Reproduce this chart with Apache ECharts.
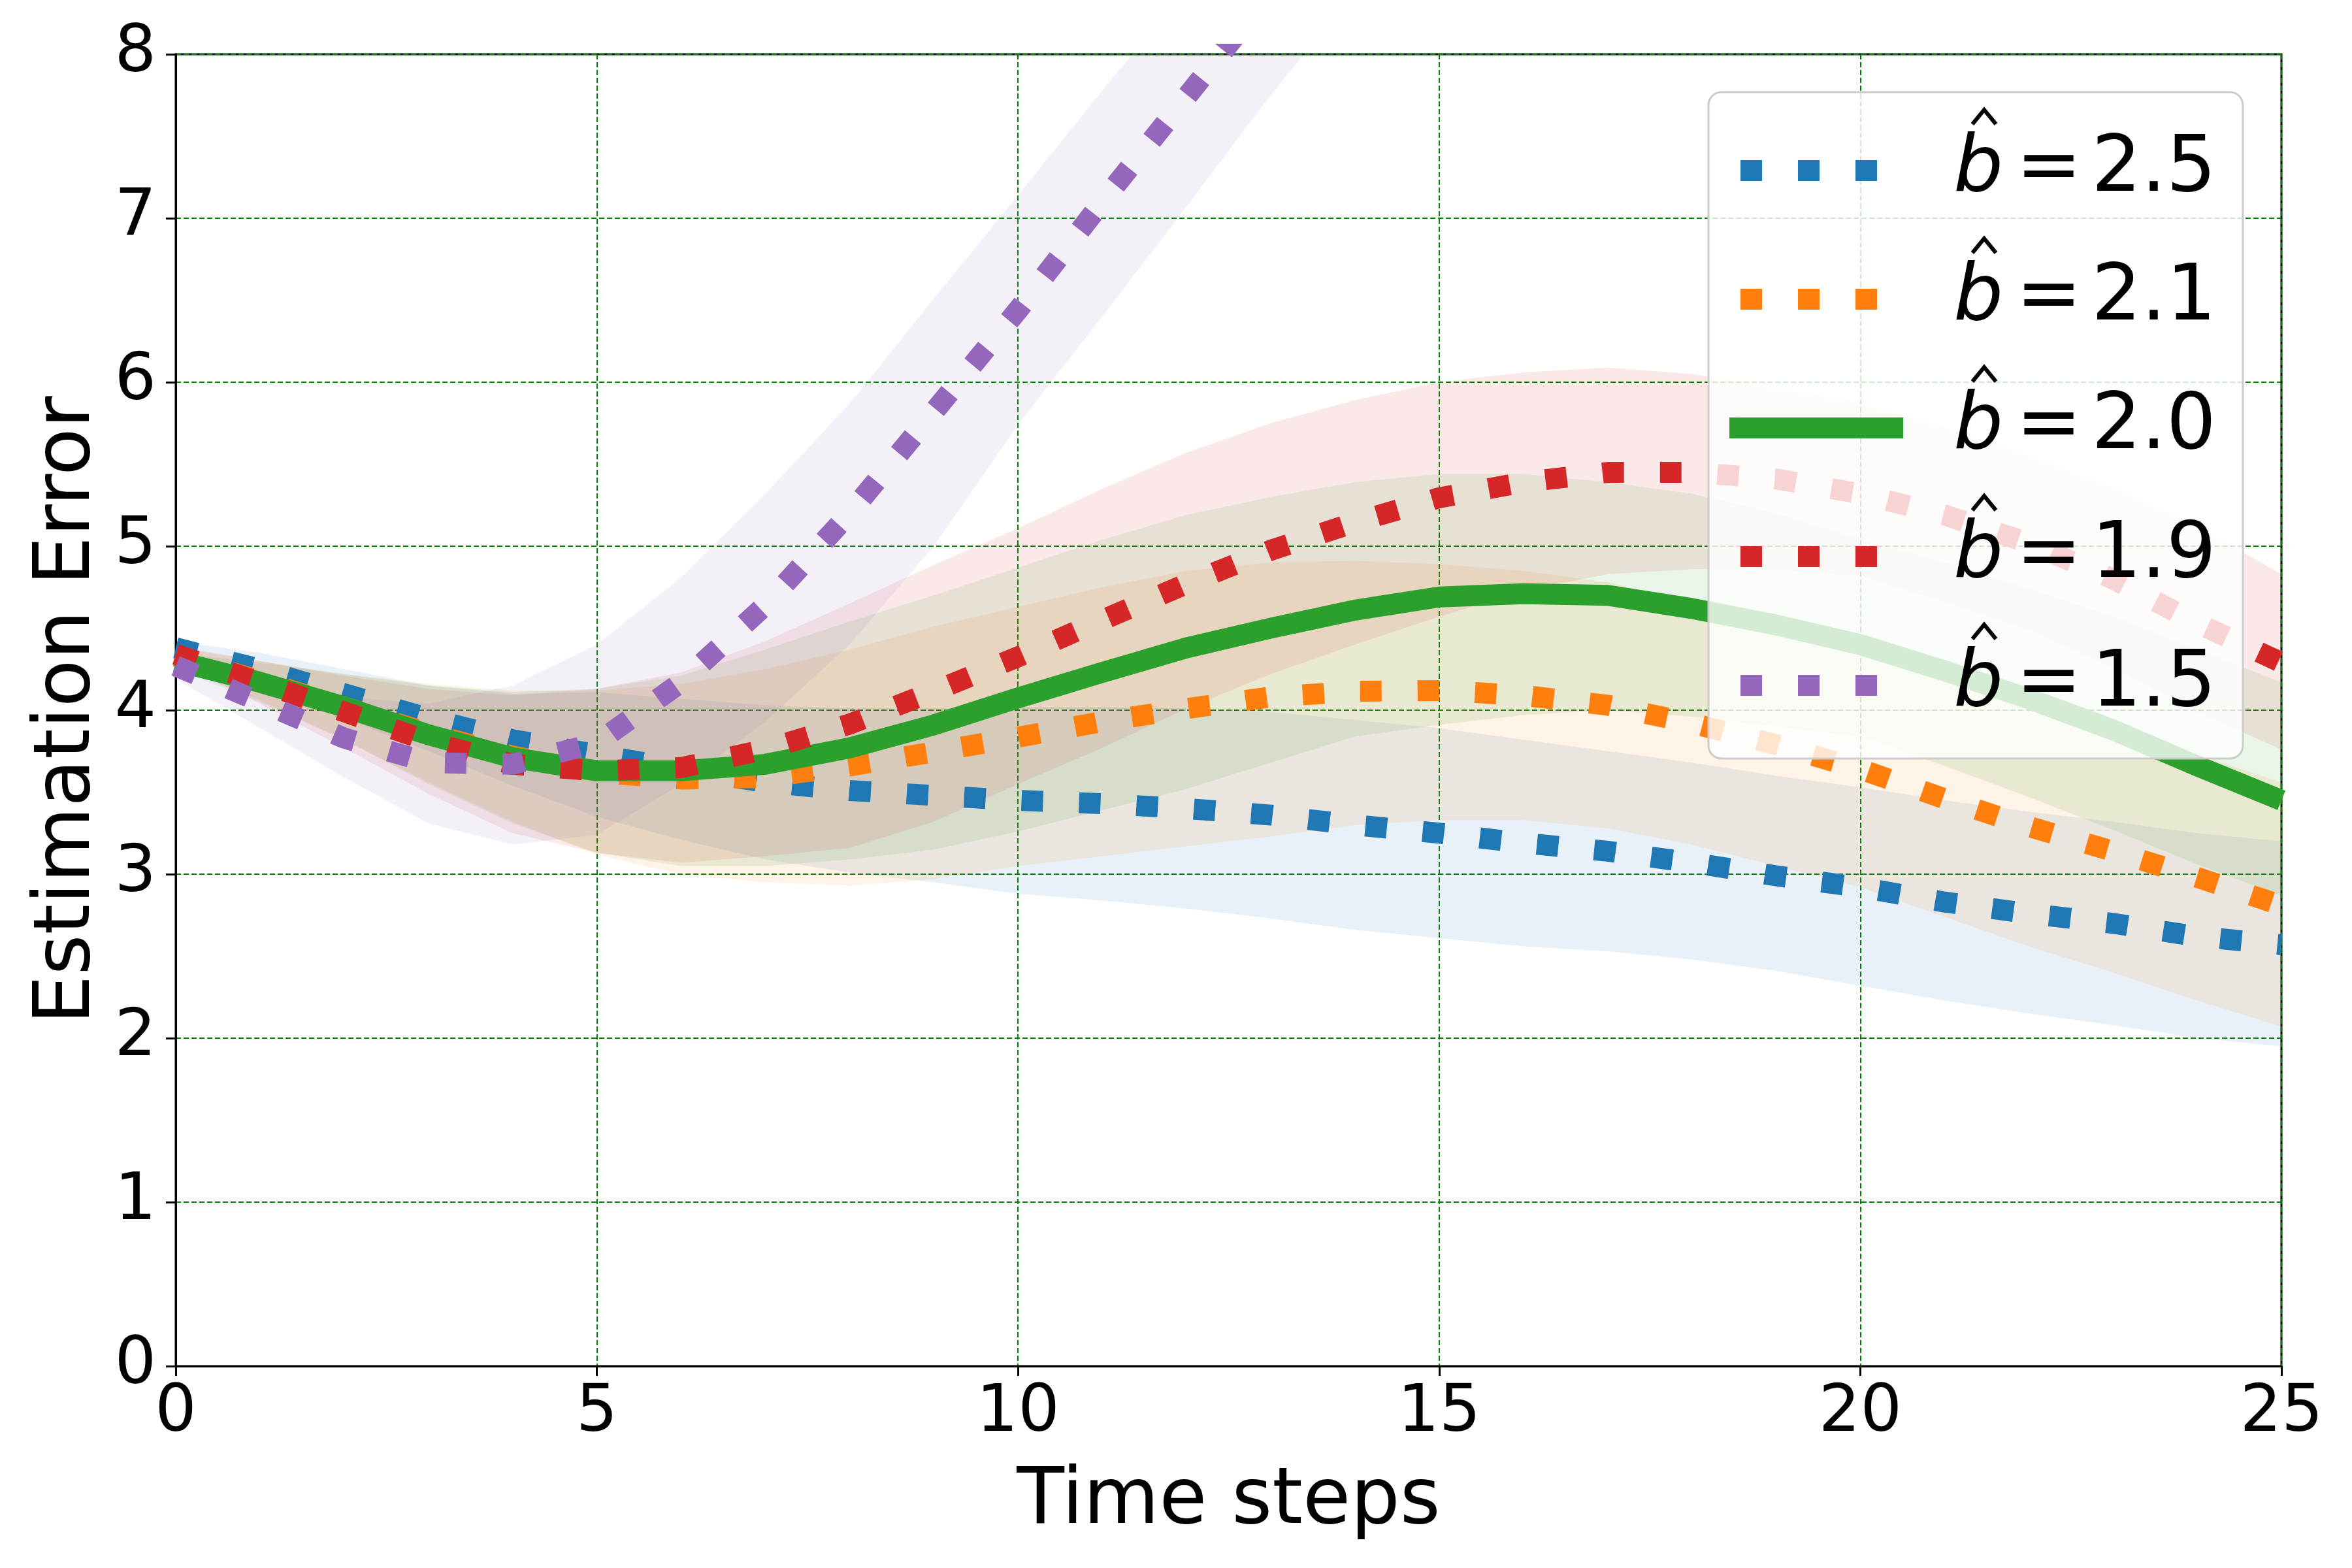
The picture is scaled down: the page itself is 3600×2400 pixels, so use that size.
<!DOCTYPE html>
<html><head><meta charset="utf-8">
<script src="https://cdn.jsdelivr.net/npm/echarts@6/dist/echarts.min.js"></script>
<style>html,body{margin:0;padding:0;background:#fff}#c{width:3600px;height:2400px}</style>
</head><body><div id="c"></div>
<script>
const steps = [0,1,2,3,4,5,6,7,8,9,10,11,12,13,14,15,16,17,18,19,20,21,22,23,24,25];
const seriesLabels = ['2.5','2.1','2.0','1.9','1.5'];
const xTicks = [0,5,10,15,20,25];
const yTicks = [0,1,2,3,4,5,6,7,8];

const blueMean  = [4.38,4.25,4.10,3.95,3.82,3.73,3.64,3.56,3.51,3.48,3.45,3.43,3.40,3.36,3.30,3.25,3.19,3.14,3.07,2.99,2.92,2.83,2.76,2.70,2.62,2.57];
const blueUpper = [4.42,4.35,4.25,4.15,4.10,4.11,4.07,4.03,4.01,4.01,4.02,4.02,4.01,3.99,3.94,3.89,3.82,3.75,3.68,3.60,3.53,3.45,3.38,3.32,3.25,3.20];
const blueLower = [4.34,4.15,3.95,3.75,3.54,3.35,3.21,3.09,3.01,2.95,2.88,2.84,2.79,2.73,2.66,2.61,2.56,2.53,2.48,2.41,2.32,2.23,2.15,2.08,2.00,1.95];

const orangeMean  = [4.33,4.18,4.02,3.86,3.72,3.62,3.58,3.59,3.66,3.745,3.835,3.93,4.01,4.08,4.115,4.12,4.09,4.03,3.92,3.79,3.64,3.46,3.29,3.14,2.98,2.81];
const orangeUpper = [4.38,4.30,4.22,4.16,4.12,4.12,4.16,4.25,4.37,4.51,4.63,4.75,4.85,4.90,4.91,4.89,4.85,4.78,4.66,4.52,4.36,4.18,4.02,3.88,3.73,3.56];
const orangeLower = [4.28,4.06,3.82,3.56,3.32,3.12,3.00,2.95,2.93,2.97,3.05,3.11,3.17,3.23,3.30,3.33,3.33,3.28,3.18,3.05,2.92,2.74,2.56,2.40,2.23,2.07];

const greenMean  = [4.30,4.17,4.02,3.85,3.71,3.63,3.63,3.67,3.77,3.91,4.075,4.23,4.38,4.50,4.61,4.69,4.71,4.70,4.62,4.52,4.40,4.24,4.07,3.88,3.66,3.45];
const greenUpper = [4.35,4.29,4.22,4.15,4.11,4.13,4.21,4.37,4.54,4.70,4.87,5.04,5.19,5.30,5.39,5.44,5.44,5.39,5.32,5.20,5.04,4.90,4.74,4.57,4.37,4.17];
const greenLower = [4.25,4.05,3.82,3.55,3.31,3.13,3.05,3.05,3.09,3.15,3.26,3.39,3.52,3.68,3.84,3.91,3.97,4.00,3.96,3.90,3.84,3.66,3.47,3.27,3.06,2.87];

const redMean  = [4.34,4.17,3.99,3.81,3.67,3.63,3.65,3.76,3.915,4.115,4.325,4.55,4.77,4.975,5.145,5.295,5.39,5.45,5.45,5.41,5.32,5.19,5.02,4.80,4.53,4.29];
const redUpper = [4.39,4.30,4.21,4.13,4.09,4.13,4.23,4.42,4.65,4.885,5.11,5.35,5.57,5.75,5.89,6.00,6.06,6.09,6.05,5.96,5.87,5.72,5.55,5.36,5.12,4.83];
const redLower = [4.29,4.04,3.77,3.49,3.25,3.13,3.07,3.11,3.16,3.32,3.55,3.77,4.01,4.22,4.40,4.57,4.73,4.83,4.86,4.86,4.82,4.66,4.49,4.26,3.99,3.76];

const purpleMean  = [4.27,4.05,3.83,3.68,3.67,3.80,4.17,4.64,5.20,5.82,6.44,7.10,7.74,8.38,9.00];
const purpleUpper = [4.35,4.21,4.08,4.04,4.15,4.40,4.81,5.32,5.87,6.51,7.14,7.78,8.40,9.03,9.65];
const purpleLower = [4.19,3.89,3.59,3.31,3.18,3.24,3.55,3.93,4.40,5.00,5.74,6.40,7.07,7.75,8.38];

const COLORS = ['#1f77b4','#ff7f0e','#2ca02c','#d62728','#9467bd'];
const BANDS = ['rgba(31,119,180,0.1)','rgba(255,127,14,0.1)','rgba(44,160,44,0.1)','rgba(214,39,40,0.1)','rgba(148,103,189,0.1)'];
const groups = [
  {mean: blueMean, up: blueUpper, lo: blueLower, dotted: true},
  {mean: orangeMean, up: orangeUpper, lo: orangeLower, dotted: true},
  {mean: greenMean, up: greenUpper, lo: greenLower, dotted: false},
  {mean: redMean, up: redUpper, lo: redLower, dotted: true},
  {mean: purpleMean, up: purpleUpper, lo: purpleLower, dotted: true}
];

const series = [];
groups.forEach((g, k) => {
  series.push({
    type: 'custom', name: 'band' + k, z: 1, clip: true, silent: true,
    data: [0],
    renderItem: function (params, api) {
      const top = g.up.map((v, i) => api.coord([steps[i], v]));
      const bot = g.lo.map((v, i) => api.coord([steps[i], v])).reverse();
      const cs = params.coordSys;
      return {
        type: 'group',
        children: [{
          type: 'polygon',
          shape: {points: top.concat(bot)},
          style: {fill: BANDS[k], stroke: null}
        }],
        clipPath: {type: 'rect', shape: {x: cs.x, y: cs.y, width: cs.width, height: cs.height}}
      };
    }
  });
});
groups.forEach((g, k) => {
  series.push({
    type: 'line', name: 'b' + seriesLabels[k], symbol: 'none', z: 3,
    data: g.mean.map((v, i) => [steps[i], v]),
    lineStyle: {color: COLORS[k], width: 32, type: g.dotted ? [33, 55] : 'solid', cap: 'butt', join: 'round'}
  });
});

// legend drawn as graphic
const FONT = '120px "DejaVu Sans"';
const graphics = [{
  type: 'rect', z: 100,
  shape: {x: 2615, y: 141, width: 818, height: 1020, r: 20},
  style: {fill: 'rgba(255,255,255,0.8)', stroke: '#cccccc', lineWidth: 3}
}];
seriesLabels.forEach((lab, i) => {
  const c = 261 + 197 * i;
  if (groups[i].dotted) {
    [2664, 2752, 2840].forEach(x => graphics.push({
      type: 'rect', z: 101, shape: {x: x, y: c - 16, width: 33, height: 32}, style: {fill: COLORS[i]}
    }));
  } else {
    graphics.push({type: 'rect', z: 101, shape: {x: 2647, y: c - 16, width: 266, height: 32}, style: {fill: COLORS[i]}});
  }
  graphics.push({type: 'text', z: 101, x: 2990, y: c,
    style: {text: 'b', font: 'italic ' + FONT, fill: '#000',
            textAlign: 'left', align: 'left', textVerticalAlign: 'middle', verticalAlign: 'middle'}});
  graphics.push({type: 'polyline', z: 101,
    shape: {points: [[3019, c - 71], [3037, c - 93], [3055, c - 71]]},
    style: {stroke: '#000', lineWidth: 6, fill: null}});
  graphics.push({type: 'text', z: 101, x: 3136, y: c,
    style: {text: '=', font: FONT, fill: '#000',
            textAlign: 'center', align: 'center', textVerticalAlign: 'middle', verticalAlign: 'middle'}});
  graphics.push({type: 'text', z: 101, x: 3392, y: c,
    style: {text: lab, font: FONT, fill: '#000',
            textAlign: 'right', align: 'right', textVerticalAlign: 'middle', verticalAlign: 'middle'}});
});

const gridLine = {show: true, lineStyle: {color: '#008000', width: 2, type: [8, 4]}};
const chart = echarts.init(document.getElementById('c'), null, {renderer: 'canvas'});
chart.setOption({
  animation: false,
  backgroundColor: '#fff',
  grid: {left: 269, top: 83, right: 108, bottom: 309, show: true, borderColor: '#000', borderWidth: 3, backgroundColor: 'transparent'},
  xAxis: {
    type: 'value', min: xTicks[0], max: xTicks[xTicks.length - 1], interval: 5,
    name: 'Time steps', nameLocation: 'middle', nameGap: 150,
    nameTextStyle: {fontSize: 119, fontFamily: 'DejaVu Sans', color: '#000'},
    axisLine: {show: true, lineStyle: {color: '#000', width: 3}},
    axisTick: {show: true, inside: false, length: 15, lineStyle: {color: '#000', width: 3}},
    axisLabel: {fontSize: 100, fontFamily: 'DejaVu Sans', color: '#000', margin: 23},
    splitLine: gridLine
  },
  yAxis: {
    type: 'value', min: yTicks[0], max: yTicks[yTicks.length - 1], interval: 1,
    name: 'Estimation Error', nameLocation: 'middle', nameGap: 100,
    nameTextStyle: {fontSize: 119, fontFamily: 'DejaVu Sans', color: '#000'},
    axisLine: {show: true, lineStyle: {color: '#000', width: 3}},
    axisTick: {show: true, inside: false, length: 15, lineStyle: {color: '#000', width: 3}},
    axisLabel: {fontSize: 100, fontFamily: 'DejaVu Sans', color: '#000', margin: 30},
    splitLine: gridLine
  },
  series: series,
  graphic: {elements: graphics}
});
</script></body></html>
